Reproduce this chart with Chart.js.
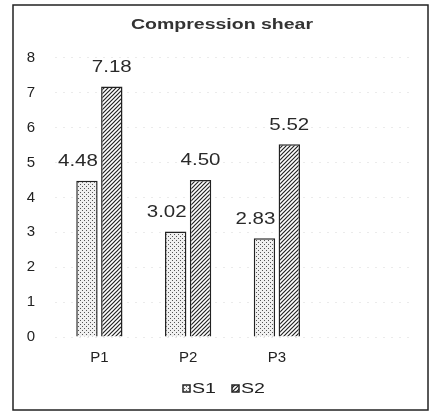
<!DOCTYPE html>
<html><head><meta charset="utf-8">
<script src="https://cdn.jsdelivr.net/npm/chart.js@4/dist/chart.umd.min.js"></script>
<style>html,body{margin:0;padding:0;background:#fff;}#c{display:block;}</style>
</head><body>
<canvas id="c" width="432" height="412"></canvas>
<script>
const categories = ['P1', 'P2', 'P3', ''];
const s1Values = [4.48, 3.02, 2.83, null];
const s2Values = [7.18, 4.50, 5.52, null];
const s1Labels = ['4.48', '3.02', '2.83'];
const s2Labels = ['7.18', '4.50', '5.52'];
const seriesNames = ['S1', 'S2'];
const titleText = 'Compression shear';
const FONT = '"Liberation Sans", Arial, sans-serif';

function dotPattern() {
  const p = document.createElement('canvas'); p.width = 4; p.height = 4;
  const g = p.getContext('2d');
  g.fillStyle = '#f0f0f0'; g.fillRect(0, 0, 4, 4);
  g.fillStyle = '#555'; g.fillRect(0, 0, 1, 1); g.fillRect(2, 2, 1, 1);
  return g.createPattern(p, 'repeat');
}
function hatchPattern() {
  const s = 4;
  const p = document.createElement('canvas'); p.width = s; p.height = s;
  const g = p.getContext('2d');
  g.fillStyle = '#fff'; g.fillRect(0, 0, s, s);
  g.strokeStyle = '#222'; g.lineWidth = 1.2;
  g.beginPath();
  g.moveTo(-1, s + 1); g.lineTo(s + 1, -1);
  g.moveTo(-1, 1); g.lineTo(1, -1);
  g.moveTo(s - 1, s + 1); g.lineTo(s + 1, s - 1);
  g.stroke();
  return g.createPattern(p, 'repeat');
}
const ctx = document.getElementById('c').getContext('2d');
const pat1 = dotPattern(), pat2 = hatchPattern();

function wideText(c, text, x, y, sx) {
  c.save();
  c.translate(x, y);
  c.scale(sx, 1);
  c.fillText(text, 0, 0);
  c.restore();
}

const frame = {
  id: 'frame',
  afterDraw(chart) {
    const c = chart.ctx; c.save();
    c.strokeStyle = '#222'; c.lineWidth = 1.5;
    c.strokeRect(13, 5, 415, 405);
    // title
    c.fillStyle = '#333'; c.textAlign = 'center'; c.textBaseline = 'middle';
    c.font = 'bold 15px ' + FONT;
    wideText(c, titleText, 222, 25, 1.3);
    // legend
    const items = chart.data.datasets;
    c.font = '14px ' + FONT;
    c.textAlign = 'left';
    let x = 183;
    const ly = 389;
    items.forEach((ds, i) => {
      c.fillStyle = ds.backgroundColor;
      c.fillRect(x, ly - 4, 7, 7);
      c.strokeStyle = '#222'; c.lineWidth = 1.5;
      c.strokeRect(x, ly - 4, 7, 7);
      c.fillStyle = '#222';
      wideText(c, ds.label, x + 9, ly, 1.4);
      x += 49;
    });
    c.restore();
  }
};
const valueLabels = {
  id: 'valueLabels',
  afterDatasetsDraw(chart) {
    const c = chart.ctx; c.save();
    c.font = '16px ' + FONT;
    c.fillStyle = '#2a2a2a'; c.textAlign = 'center'; c.textBaseline = 'middle';
    [s1Labels, s2Labels].forEach((labs, di) => {
      const meta = chart.getDatasetMeta(di);
      labs.forEach((t, i) => {
        const el = meta.data[i];
        const dx = di === 0 ? -9 : 0;
        wideText(c, t, el.x + dx, el.y - 19, 1.28);
      });
    });
    c.restore();
  }
};

new Chart(ctx, {
  type: 'bar',
  data: {
    labels: categories,
    datasets: [
      { label: seriesNames[0], data: s1Values, backgroundColor: pat1, borderColor: '#222', borderWidth: 1.5, categoryPercentage: 0.56, barPercentage: 0.86 },
      { label: seriesNames[1], data: s2Values, backgroundColor: pat2, borderColor: '#222', borderWidth: 1.5, categoryPercentage: 0.56, barPercentage: 0.86 }
    ]
  },
  options: {
    responsive: false, animation: false,
    layout: { padding: { left: 15, right: 22, top: 11, bottom: 41 } },
    plugins: {
      title: { display: true, text: titleText, color: 'rgba(0,0,0,0)', font: { family: FONT, size: 14, weight: 'bold' }, padding: { top: 8, bottom: 22 } },
      legend: { display: false },
      tooltip: { enabled: false }
    },
    scales: {
      x: {
        grid: { display: false }, border: { display: false },
        ticks: { color: '#222', padding: 4, font: { family: FONT, size: 15 } }
      },
      y: {
        min: 0, max: 8,
        afterFit(scale) { scale.width = 40; },
        grid: { color: 'rgba(0,0,0,0.08)', drawTicks: false },
        border: { display: false, dash: [2, 6] },
        ticks: { stepSize: 1, color: '#222', padding: 20, font: { family: FONT, size: 15 } }
      }
    }
  },
  plugins: [frame, valueLabels]
});
</script>
</body></html>
